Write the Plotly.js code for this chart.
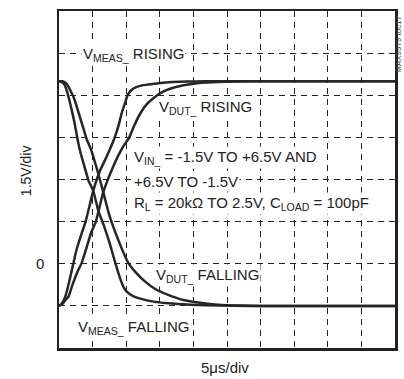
<!DOCTYPE html>
<html>
<head>
<meta charset="utf-8">
<script src="https://cdn.plot.ly/plotly-3.0.1.min.js"></script>
<style>html,body{margin:0;padding:0;background:#fff;}#chart{width:404px;height:379px;}</style>
</head>
<body>
<div id="chart"></div>
<script>
// Time in microseconds, voltage in volts
var measFallT = [0,0.37,0.82,1.11,1.41,1.85,2.30,2.74,3.19,3.78,4.38,5.12,5.86,6.60,7.49,8.38,9.08,9.67,10.12,11.01,12.24,13.87,16.24,19.51,23.96,28.41,50];
var measFallV = [6.5,6.48,6.38,6.20,5.95,5.52,5.03,4.46,3.96,3.47,2.97,2.58,1.87,1.41,0.77,0.03,-0.51,-0.86,-1.00,-1.15,-1.25,-1.34,-1.41,-1.46,-1.49,-1.5,-1.5];

var dutFallT = [0,0.52,0.96,1.41,1.85,2.15,2.60,3.04,3.64,4.08,4.82,5.71,6.60,7.49,8.83,10.31,11.35,12.69,14.32,16.25,18.47,20.99,23.67,26.93,30.19,50];
var dutFallV = [6.5,6.5,6.45,6.31,6.09,5.95,5.63,5.28,4.81,4.46,4.03,3.32,2.54,1.73,0.84,0.03,-0.29,-0.61,-0.90,-1.11,-1.29,-1.39,-1.46,-1.49,-1.5,-1.5];

var measRiseT = [0,0.37,0.92,1.41,1.85,2.15,2.60,3.19,3.93,4.53,5.12,6.11,6.83,7.49,8.23,8.83,9.27,9.79,10.24,10.76,11.50,12.54,13.87,15.80,18.03,20.25,23.22,50];
var measRiseV = [-1.5,-1.43,-1.18,-0.75,-0.29,0.03,0.49,0.95,1.48,2.05,2.62,3.32,3.68,4.03,4.46,4.89,5.31,5.70,6.02,6.18,6.29,6.36,6.40,6.45,6.48,6.49,6.5,6.5];

var dutRiseT = [0,0.52,0.96,1.41,2.00,2.74,3.38,4.08,4.82,5.46,5.86,6.60,7.34,8.09,8.83,9.57,10.46,11.20,12.09,13.13,14.32,15.36,16.54,18.03,19.81,21.74,24.70,28.41,50];
var dutRiseV = [-1.5,-1.43,-1.29,-1.17,-0.75,-0.29,0.03,0.56,1.13,1.48,1.85,2.56,3.04,3.47,3.86,4.18,4.50,4.92,5.35,5.70,5.95,6.11,6.23,6.33,6.40,6.45,6.48,6.5,6.5];

var xTicks = [0,5,10,15,20,25,30,35,40,45,50];
var yTicks = [-3,-1.5,0,1.5,3,4.5,6,7.5,9];
var yLabelValue = 0;
var yLabelText = '0';

var lineStyle = {color:'#262626', width:2.5, shape:'spline', smoothing:0.5};
function tr(x,y,name){return {x:x,y:y,name:name,type:'scatter',mode:'lines',line:lineStyle,hoverinfo:'skip'};}
var data = [
  tr(measRiseT, measRiseV, 'VMEAS_ RISING'),
  tr(dutRiseT, dutRiseV, 'VDUT_ RISING'),
  tr(measFallT, measFallV, 'VMEAS_ FALLING'),
  tr(dutFallT, dutFallV, 'VDUT_ FALLING')
];

var F = 'Liberation Sans, Arial, Helvetica, sans-serif';
var tf = {family:F, size:15, color:'#222'};
function ann(text,x,y){return {text:text,x:x,y:y,xref:'x',yref:'y',xanchor:'left',yanchor:'middle',showarrow:false,font:tf,bgcolor:'#fff',borderpad:1,align:'left'};}

var layout = {
  width:404, height:379,
  margin:{l:59,r:9,t:11,b:31},
  paper_bgcolor:'#fff', plot_bgcolor:'#fff',
  showlegend:false,
  font:{family:F,color:'#222'},
  xaxis:{range:[0,50], tickvals:xTicks, showticklabels:false, showgrid:true, gridcolor:'#222', gridwidth:1, griddash:'6px,5px', zeroline:false, showline:true, mirror:true, linecolor:'#222', linewidth:2.5, ticks:'', fixedrange:true},
  yaxis:{range:[-3,9], tickvals:yTicks, showticklabels:false, showgrid:true, gridcolor:'#222', gridwidth:1, griddash:'6px,5px', zeroline:false, showline:true, mirror:true, linecolor:'#222', linewidth:2.5, ticks:'', fixedrange:true},
  annotations:[
    ann('V<sub>MEAS_</sub> RISING', 3.3, 7.45),
    ann('V<sub>DUT_</sub> RISING', 14.6, 5.55),
    ann('V<sub>IN_</sub> = -1.5V TO +6.5V AND', 10.9, 3.8),
    ann('+6.5V TO -1.5V', 10.9, 2.93),
    ann('R<sub>L</sub> = 20kΩ TO 2.5V, C<sub>LOAD</sub> = 100pF', 10.9, 2.15),
    ann('V<sub>DUT_</sub> FALLING', 14.2, -0.42),
    ann('V<sub>MEAS_</sub> FALLING', 2.6, -2.27),
    {text:yLabelText, xref:'paper', yref:'y', x:-0.058, y:yLabelValue, xanchor:'center', yanchor:'middle', showarrow:false, font:{family:F,size:15,color:'#222'}},
    {text:'1.5V/div', xref:'paper', yref:'paper', x:-0.098, y:0.525, xanchor:'center', yanchor:'middle', textangle:-90, showarrow:false, font:{family:F,size:14,color:'#222'}},
    {text:'5μs/div', xref:'paper', yref:'paper', x:0.494, y:-0.059, xanchor:'center', yanchor:'middle', showarrow:false, font:{family:F,size:15,color:'#222'}},
    {text:'MAX9979 toc17', xref:'paper', yref:'paper', x:1.012, y:0.9, xanchor:'center', yanchor:'middle', textangle:-90, showarrow:false, font:{family:F,size:8,color:'#444'}}
  ]
};
Plotly.newPlot('chart', data, layout, {staticPlot:true, displayModeBar:false});
</script>
</body>
</html>
